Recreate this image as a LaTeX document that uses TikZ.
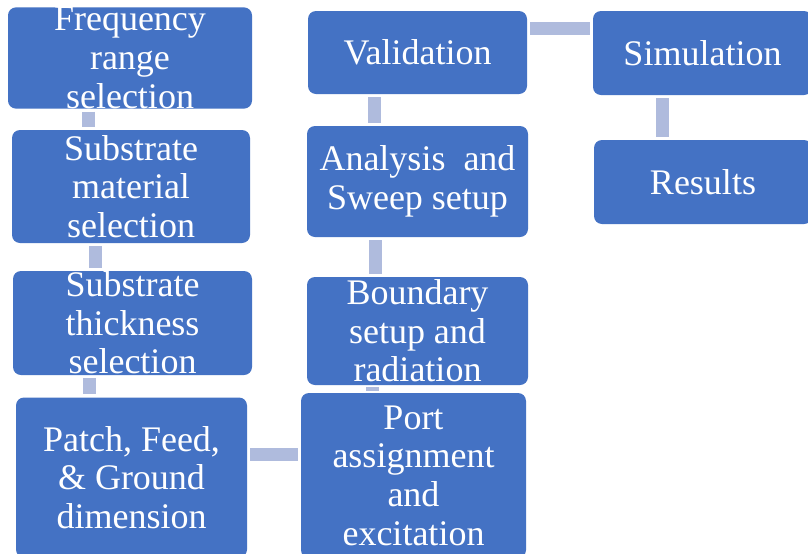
\documentclass[tikz,border=0pt]{standalone}
\usepackage{fontspec}
\setmainfont{Liberation Serif}
\definecolor{boxblue}{HTML}{4472C4}
\definecolor{connblue}{HTML}{AFBBDD}
\begin{document}
\begin{tikzpicture}[x=0.75pt,y=-0.75pt,
  box/.style={fill=boxblue, draw=none, rounded corners=6pt, text=white, align=center,
    inner sep=0pt, font=\fontsize{27}{29}\selectfont},
  conn/.style={draw=connblue, line width=9.75pt, line cap=butt, shorten <=2.3pt, shorten >=2.3pt}]
\useasboundingbox (0,0) rectangle (808,554);
\fill[white] (0,0) rectangle (808,554);
\begin{scope}
\clip (0,0) rectangle (808,554);
% left column
\node[box, minimum width=183pt, minimum height=75pt] (freq) at (130,58) {Frequency\\range\\selection};
\node[box, minimum width=178.5pt, minimum height=84.75pt] (mat) at (131,186.5) {Substrate\\material\\selection};
\node[box, minimum width=179.25pt, minimum height=78pt] (thick) at (132.5,323) {Substrate\\thickness\\selection};
\node[box, minimum width=173.25pt, minimum height=120pt] (patch) at (131.5,477.5) {Patch, Feed,\\\& Ground\\dimension};
% middle column
\node[box, minimum width=168.75pt, minimum height=123.75pt] (port) at (413.5,475.5) {Port\\assignment\\and\\excitation};
\node[box, minimum width=165.75pt, minimum height=81pt] (bound) at (417.5,331) {Boundary\\setup and\\radiation};
\node[box, minimum width=165.75pt, minimum height=83.25pt] (anal) at (417.5,181.5) {Analysis \ and\\Sweep setup};
\node[box, minimum width=164.25pt, minimum height=62.25pt] (valid) at (417.5,52.5) {Validation};
% right column
\node[box, minimum width=164.25pt, minimum height=63pt] (sim) at (702.5,53) {Simulation};
\node[box, minimum width=163.5pt, minimum height=63pt] (res) at (703,182) {Results};
\end{scope}
% connector guides
\coordinate (c1) at (88.5,0);
\coordinate (c2) at (95.5,0);
\coordinate (c3) at (89.5,0);
\coordinate (c4) at (0,454.5);
\coordinate (c5) at (372,0);
\coordinate (c6) at (375.5,0);
\coordinate (c7) at (374.5,0);
\coordinate (c8) at (0,28.5);
\coordinate (c9) at (662,0);
\draw[conn] (freq.south -| c1) -- (mat.north -| c1);
\draw[conn] (mat.south -| c2) -- (thick.north -| c2);
\draw[conn] (thick.south -| c3) -- (patch.north -| c3);
\draw[conn] (patch.east |- c4) -- (port.west |- c4);
\draw[conn, shorten <=1.5pt, shorten >=1.5pt] (port.north -| c5) -- (bound.south -| c5);
\draw[conn] (bound.north -| c6) -- (anal.south -| c6);
\draw[conn] (anal.north -| c7) -- (valid.south -| c7);
\draw[conn] (valid.east |- c8) -- (sim.west |- c8);
\draw[conn] (sim.south -| c9) -- (res.north -| c9);
\end{tikzpicture}
\end{document}
